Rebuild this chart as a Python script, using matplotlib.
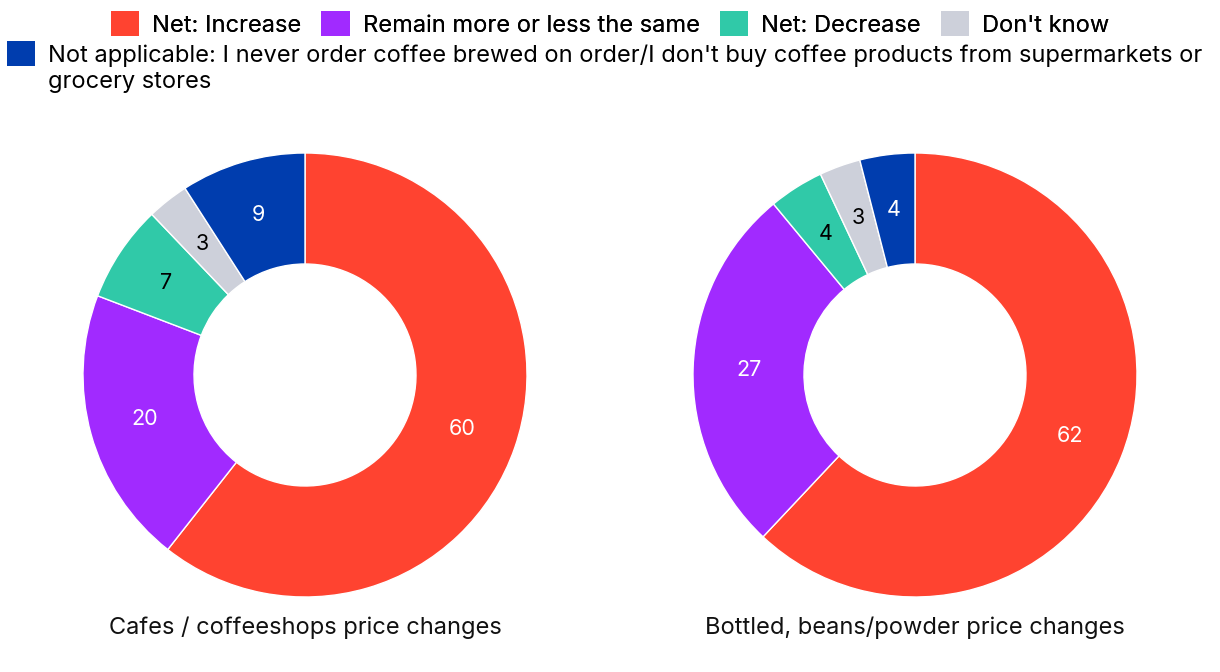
import numpy as np
import matplotlib.pyplot as plt
from matplotlib.patches import Patch

plt.rcParams['font.family'] = ['Inter', 'DejaVu Sans']

categories = ['Net: Increase', 'Remain more or less the same', 'Net: Decrease', "Don't know",
              "Not applicable: I never order coffee brewed on order/I don't buy coffee products from supermarkets or"]
wrap_line = 'grocery stores'
colors = ['#FF4330', '#A12AFF', '#30C9A8', '#CDD0DA', '#003DAE']
label_colors = ['white', 'white', 'black', 'black', 'white']

cafes = [60, 20, 7, 3, 9]
bottled = [62, 27, 4, 3, 4]
titles = ['Cafes / coffeeshops price changes', 'Bottled, beans/powder price changes']

W, H = 1220, 672
fig = plt.figure(figsize=(W / 100, H / 100), dpi=100)

centers = [305, 915]
r_px = 222
for cx, values, title in zip(centers, [cafes, bottled], titles):
    ax = fig.add_axes([(cx - r_px) / W, (H - 375 - r_px) / H, 2 * r_px / W, 2 * r_px / H])
    ax.pie(values, colors=colors, startangle=90, counterclock=False,
           radius=1.0, wedgeprops=dict(width=0.5, edgecolor='white', linewidth=1))
    total = sum(values)
    cum = 0
    for v, lc in zip(values, label_colors):
        mid = (cum + v / 2) / total
        ang = np.deg2rad(90 - mid * 360)
        ax.text(0.75 * np.cos(ang), 0.75 * np.sin(ang), str(v), ha='center', va='center',
                fontsize=15.5, color=lc)
        cum += v
    ax.set_xlim(-1, 1)
    ax.set_ylim(-1, 1)
    ax.set_aspect('equal')
    fig.text(cx / W, 1 - 628 / H, title, ha='center', va='center', fontsize=17, color='#111111')

handles = [Patch(facecolor=c, edgecolor='none') for c in colors]
leg1 = fig.legend(handles[:4], categories[:4], loc='upper center', bbox_to_anchor=(0.5, 1.0 - 4 / H),
                  ncol=4, frameon=False, fontsize=17, handlelength=1.2, handleheight=1.25,
                  handletextpad=0.55, columnspacing=0.85, borderaxespad=0, borderpad=0.3)
fig.add_artist(leg1)
leg2 = fig.legend(handles[4:], categories[4:], loc='upper left', bbox_to_anchor=(0.0, 1 - 34 / H),
                  frameon=False, fontsize=17, handlelength=1.2, handleheight=1.25,
                  handletextpad=0.55, borderaxespad=0, borderpad=0.3)

# second line of the wrapped legend label, aligned with the first
fig.canvas.draw()
bb = leg2.get_texts()[0].get_window_extent()
fig.text(bb.x0 / W, (bb.y0 - 27 + bb.height / 2) / H, wrap_line, ha='left', va='center',
         fontsize=17, color='black')

fig.savefig('out.png', dpi=100)
